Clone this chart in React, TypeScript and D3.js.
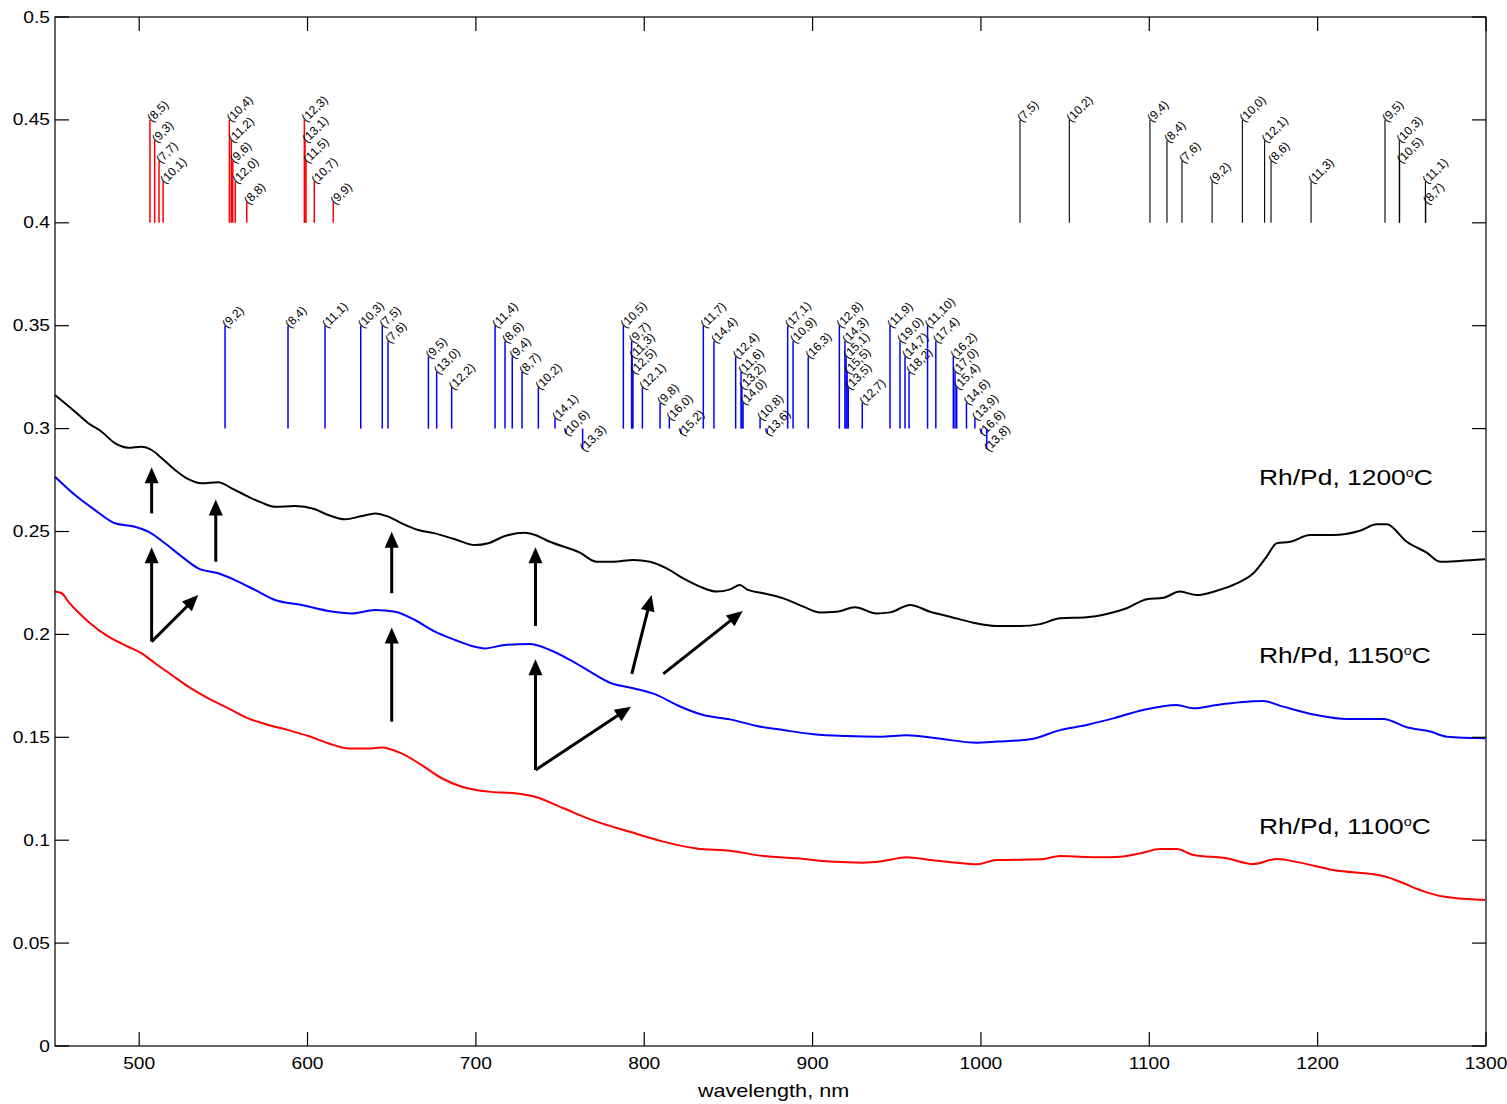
import React from "react";
import * as d3 from "d3";

// ---------- data ----------
const spectrum1200: [number, number][] = [
  [450, 0.3163], [461.9, 0.3082], [469.8, 0.3026], [477.7, 0.2985], [485.6, 0.2929], [493.5, 0.2907],
  [501.5, 0.2912], [507.4, 0.2896], [513.4, 0.2856], [521.3, 0.2799], [529.2, 0.2754], [537.1, 0.2734],
  [547, 0.2739], [555, 0.271], [564.8, 0.2669], [572.8, 0.264], [580.7, 0.262], [592.6, 0.2624],
  [604.4, 0.2608], [612.3, 0.258], [622.3, 0.2559], [632.2, 0.2575], [640.1, 0.2588], [648, 0.2572],
  [655.9, 0.254], [665.8, 0.2507], [675.7, 0.2491], [687.6, 0.2462], [699.5, 0.2434], [707.4, 0.2443],
  [717.3, 0.2478], [729.2, 0.2494], [735.1, 0.2483], [744, 0.245], [761.8, 0.2397], [771.7, 0.2353],
  [781.6, 0.2353], [793.5, 0.2362], [803.4, 0.2353], [813.3, 0.2321], [823.2, 0.2272], [833.1, 0.2232],
  [843, 0.2208], [851, 0.2219], [856.9, 0.224], [860.9, 0.2219], [870.7, 0.22], [882.6, 0.2175],
  [894.5, 0.2135], [904.4, 0.2107], [914.3, 0.211], [925.2, 0.2132], [938.1, 0.2102], [946, 0.2107],
  [957.9, 0.2143], [969.8, 0.211], [981.6, 0.2086], [995.5, 0.2057], [1009.4, 0.2041], [1023.2, 0.2041],
  [1035.1, 0.205], [1047, 0.2078], [1062.8, 0.2083], [1074.7, 0.2099], [1086.6, 0.2127], [1098.5, 0.2171],
  [1108.4, 0.2178], [1118.2, 0.2208], [1128.2, 0.2191], [1140, 0.2212], [1151.9, 0.2248], [1161.8, 0.2297],
  [1169.7, 0.2378], [1175.7, 0.2443], [1183.6, 0.245], [1195.5, 0.2483], [1209.3, 0.2483], [1225.1, 0.2504],
  [1235.1, 0.2535], [1241, 0.2535], [1252.9, 0.245], [1264.8, 0.2397], [1272.7, 0.2353], [1284.6, 0.2357],
  [1299.4, 0.2365],
];

const spectrum1150: [number, number][] = [
  [450, 0.2766], [461.9, 0.2677], [473.8, 0.2604], [485.6, 0.254], [497.5, 0.2523], [505.4, 0.2499],
  [515.3, 0.2443], [525.3, 0.2378], [535.1, 0.2321], [547, 0.2297], [556.9, 0.2264], [568.8, 0.2216],
  [580.7, 0.2167], [596.6, 0.2143], [612.3, 0.2114], [626.2, 0.2102], [640.1, 0.2119], [652, 0.211],
  [663.8, 0.207], [675.7, 0.2013], [687.6, 0.1973], [697.5, 0.1944], [705.4, 0.1932], [717.3, 0.1949],
  [732.1, 0.1953], [744, 0.1924], [755.9, 0.1876], [767.8, 0.1819], [779.7, 0.1765], [793.5, 0.1738],
  [807.4, 0.1706], [819.3, 0.1657], [835.1, 0.1608], [851, 0.1587], [866.8, 0.1555], [882.6, 0.1535],
  [900.4, 0.1515], [920.3, 0.1506], [940.1, 0.1503], [955.9, 0.151], [973.7, 0.1495], [997.5, 0.1474],
  [1009.4, 0.1479], [1029.2, 0.149], [1047, 0.1535], [1062.8, 0.156], [1078.6, 0.1592], [1096.4, 0.1633],
  [1116.3, 0.1657], [1126.1, 0.1641], [1140, 0.1657], [1153.9, 0.167], [1167.7, 0.1676], [1179.6, 0.1649],
  [1199.5, 0.1608], [1217.3, 0.1589], [1239, 0.1589], [1252.9, 0.1549], [1266.8, 0.1528], [1276.7, 0.1503],
  [1299.4, 0.1495],
];

const spectrum1100: [number, number][] = [
  [450, 0.2208], [454, 0.22], [457.9, 0.2159], [469.8, 0.2062], [481.7, 0.1989], [493.5, 0.194],
  [501.5, 0.1908], [509.4, 0.186], [519.3, 0.1803], [529.2, 0.1746], [541.1, 0.1689], [553, 0.1641],
  [564.8, 0.1592], [576.7, 0.156], [588.6, 0.1535], [600.5, 0.1506], [612.3, 0.1471], [624.2, 0.1446],
  [636.1, 0.1446], [644.1, 0.1451], [655.9, 0.1422], [667.8, 0.1365], [679.7, 0.1301], [691.6, 0.126],
  [707.4, 0.1236], [723.2, 0.1228], [735.1, 0.1211], [752, 0.1155], [771.7, 0.109], [791.5, 0.1041],
  [811.3, 0.0993], [831.2, 0.096], [851, 0.0949], [870.7, 0.0923], [890.5, 0.0912], [910.4, 0.0896],
  [930.1, 0.0891], [942, 0.0899], [955.9, 0.0917], [969.8, 0.0904], [985.6, 0.0891], [997.5, 0.0883],
  [1009.4, 0.0904], [1035.1, 0.0907], [1047, 0.0923], [1070.7, 0.0917], [1082.6, 0.092], [1094.5, 0.0936],
  [1106.4, 0.0957], [1116.3, 0.0957], [1126.1, 0.0928], [1146, 0.0912], [1161.8, 0.0884], [1175.7, 0.0909],
  [1189.5, 0.0891], [1209.3, 0.0855], [1239, 0.0826], [1248.9, 0.0798], [1260.8, 0.0758], [1272.7, 0.0729],
  [1299.4, 0.0709],
];

// stick lines: [label, wavelength, top value]
const redSticks: [string, number, number][] = [
  ["(8,5)", 506.4, 0.45], ["(9,3)", 509.2, 0.44], ["(7,7)", 511.8, 0.43], ["(10,1)", 514.2, 0.42],
  ["(10,4)", 553.6, 0.45], ["(11,2)", 554.7, 0.44], ["(9,6)", 555.6, 0.43], ["(12,0)", 557.1, 0.42],
  ["(8,8)", 563.9, 0.41], ["(12,3)", 598.1, 0.45], ["(13,1)", 598.5, 0.44], ["(11,5)", 599.1, 0.43],
  ["(10,7)", 604.0, 0.42], ["(9,9)", 615.3, 0.41],
];
const redBase = 0.4;

const blackSticks: [string, number, number][] = [
  ["(7,5)", 1023.2, 0.45], ["(10,2)", 1052.5, 0.45], ["(9,4)", 1100.4, 0.45], ["(8,4)", 1110.5, 0.44],
  ["(7,6)", 1119.4, 0.43], ["(9,2)", 1137.3, 0.42], ["(10,0)", 1155.3, 0.45], ["(12,1)", 1168.5, 0.44],
  ["(8,6)", 1172.3, 0.43], ["(11,3)", 1196.1, 0.42], ["(9,5)", 1240.0, 0.45], ["(10,3)", 1248.5, 0.44],
  ["(10,5)", 1248.7, 0.43], ["(11,1)", 1264.0, 0.42], ["(8,7)", 1264.2, 0.41],
];
const blackBase = 0.4;

const blueSticks: [string, number, number][] = [
  ["(9,2)", 551.0, 0.35], ["(8,4)", 588.4, 0.35], ["(11,1)", 610.4, 0.35], ["(10,3)", 631.6, 0.35],
  ["(7,5)", 644.4, 0.35], ["(7,6)", 647.8, 0.3425], ["(9,5)", 671.8, 0.335], ["(13,0)", 676.7, 0.3275],
  ["(12,2)", 685.6, 0.32], ["(11,4)", 711.4, 0.35], ["(8,6)", 717.3, 0.3425], ["(9,4)", 721.6, 0.335],
  ["(8,7)", 727.4, 0.3275], ["(10,2)", 737.1, 0.32], ["(14,1)", 747.0, 0.305], ["(10,6)", 753.5, 0.2975],
  ["(13,3)", 763.4, 0.29], ["(10,5)", 787.6, 0.35], ["(9,7)", 792.5, 0.3425], ["(11,3)", 792.8, 0.335],
  ["(12,5)", 793.3, 0.3275], ["(12,1)", 798.9, 0.32], ["(9,8)", 809.4, 0.3125], ["(16,0)", 814.9, 0.305],
  ["(15,2)", 821.8, 0.2975], ["(11,7)", 835.1, 0.35], ["(14,4)", 841.4, 0.3425], ["(12,4)", 854.3, 0.335],
  ["(11,6)", 857.5, 0.3275], ["(13,2)", 858.0, 0.32], ["(14,0)", 858.7, 0.3125], ["(10,8)", 868.8, 0.305],
  ["(13,6)", 873.0, 0.2975], ["(17,1)", 885.2, 0.35], ["(10,9)", 888.4, 0.3425], ["(16,3)", 897.4, 0.335],
  ["(12,8)", 915.9, 0.35], ["(14,3)", 919.2, 0.3425], ["(15,1)", 919.9, 0.335], ["(15,5)", 920.5, 0.3275],
  ["(13,5)", 921.2, 0.32], ["(12,7)", 929.5, 0.3125], ["(11,9)", 946.0, 0.35], ["(19,0)", 951.9, 0.3425],
  ["(14,7)", 954.9, 0.335], ["(18,2)", 957.3, 0.3275], ["(11,10)", 968.3, 0.35], ["(17,4)", 973.2, 0.3425],
  ["(16,2)", 983.6, 0.335], ["(17,0)", 984.6, 0.3275], ["(15,4)", 985.6, 0.32], ["(14,6)", 991.4, 0.3125],
  ["(13,9)", 996.4, 0.305], ["(16,6)", 1000.3, 0.2975], ["(13,8)", 1003.4, 0.29],
];
const blueBase = 0.3;

// arrows: [x1, y1, x2 (tip), y2 (tip)] in data units
const arrows: [number, number, number, number][] = [
  [507.4, 0.2588, 507.4, 0.2812],
  [545.5, 0.2353, 545.5, 0.2656],
  [507.4, 0.1965, 507.4, 0.2423],
  [507.4, 0.1965, 535.1, 0.2191],
  [650, 0.22, 650, 0.2499],
  [650, 0.1576, 650, 0.2034],
  [735.4, 0.2041, 735.4, 0.2423],
  [735.4, 0.1341, 735.4, 0.1879],
  [735.4, 0.1341, 792.1, 0.1649],
  [792.6, 0.1808, 804.4, 0.2191],
  [811.3, 0.1808, 858.5, 0.2114],
];

// series labels: [temperature text, wavelength, value]
const seriesLabels: [string, number, number][] = [
  ["1200", 1165.2, 0.2726],
  ["1150", 1165.2, 0.1862],
  ["1100", 1165.2, 0.1029],
];

const xTicks = [500, 600, 700, 800, 900, 1000, 1100, 1200, 1300];
const yTicks = [0, 0.05, 0.1, 0.15, 0.2, 0.25, 0.3, 0.35, 0.4, 0.45, 0.5];
const xLabel = "wavelength, nm";

// ---------- chart ----------
const W = 1507;
const H = 1104;
const L = 55, R = 1486, T = 17, B = 1046;
const FONT = "'Liberation Sans', Arial, Helvetica, sans-serif";
const SX = 1.2; // horizontal text stretch

export default function App() {
  const x = d3.scaleLinear().domain([450, 1300]).range([L, R]);
  const y = d3.scaleLinear().domain([0, 0.5]).range([B, T]);
  const line = d3.line<[number, number]>().x((d) => x(d[0])).y((d) => y(d[1])).curve(d3.curveMonotoneX);
  const fmt = d3.format("~g");
  const tick = 14;

  const sticks = (data: [string, number, number][], base: number, color: string, width: number, key: string) =>
    data.map(([lab, wl, top], i) => {
      const px = x(wl);
      const py = y(top);
      return (
        <g key={key + i}>
          <line x1={px} x2={px} y1={y(base)} y2={py} stroke={color} strokeWidth={width} />
          <text
            transform={`translate(${px - 1},${py}) rotate(-45)`}
            dy="0.35em"
            fontSize={12}
            fontFamily={FONT}
            fill="#000"
          >
            {lab}
          </text>
        </g>
      );
    });

  return (
    <svg width={W} height={H} style={{ position: "absolute", left: 0, top: 0, background: "#fff" }}>
      <rect x={0} y={0} width={W} height={H} fill="#fff" />

      {/* sticks */}
      {sticks(redSticks, redBase, "#ff0000", 1.5, "r")}
      {sticks(blackSticks, blackBase, "#000", 1.1, "k")}
      {sticks(blueSticks, blueBase, "#0000ff", 1.5, "b")}

      {/* spectra */}
      <path d={line(spectrum1100) || ""} fill="none" stroke="#ff0000" strokeWidth={2} />
      <path d={line(spectrum1150) || ""} fill="none" stroke="#0000ff" strokeWidth={2} />
      <path d={line(spectrum1200) || ""} fill="none" stroke="#000" strokeWidth={2} />

      {/* arrows */}
      {arrows.map(([a, b, c, d], i) => {
        const x1 = x(a), y1 = y(b), x2 = x(c), y2 = y(d);
        const dx = x2 - x1, dy = y2 - y1;
        const len = Math.hypot(dx, dy);
        const ux = dx / len, uy = dy / len;
        const hl = 16, hw = 7;
        const bx = x2 - ux * hl, by = y2 - uy * hl;
        const pts = `${x2},${y2} ${bx - uy * hw},${by + ux * hw} ${bx + uy * hw},${by - ux * hw}`;
        return (
          <g key={"a" + i}>
            <line x1={x1} y1={y1} x2={bx + ux * 2} y2={by + uy * 2} stroke="#000" strokeWidth={3} />
            <polygon points={pts} fill="#000" />
          </g>
        );
      })}

      {/* series labels */}
      {seriesLabels.map(([t, wl, v], i) => (
        <g key={"s" + i} transform={`translate(${x(wl)},${y(v)}) scale(${SX},1)`}>
          <text x={0} y={0} fontSize={22} fontFamily={FONT} fill="#000">
            {"Rh/Pd, " + t}
            <tspan fontSize={12} dy={-8}>o</tspan>
            <tspan dy={8}>C</tspan>
          </text>
        </g>
      ))}

      {/* frame */}
      <rect x={L} y={T} width={R - L} height={B - T} fill="none" stroke="#000" strokeWidth={1.2} />

      {/* ticks */}
      {xTicks.map((t) => (
        <g key={"xt" + t}>
          <line x1={x(t)} x2={x(t)} y1={B} y2={B - tick} stroke="#000" strokeWidth={1.2} />
          <line x1={x(t)} x2={x(t)} y1={T} y2={T + tick} stroke="#000" strokeWidth={1.2} />
          <g transform={`translate(${x(t)},${B + 23}) scale(${SX},1)`}>
            <text textAnchor="middle" fontSize={16} fontFamily={FONT} fill="#000">
              {t}
            </text>
          </g>
        </g>
      ))}
      {yTicks.map((t) => (
        <g key={"yt" + t}>
          <line x1={L} x2={L + tick} y1={y(t)} y2={y(t)} stroke="#000" strokeWidth={1.2} />
          <line x1={R} x2={R - tick} y1={y(t)} y2={y(t)} stroke="#000" strokeWidth={1.2} />
          <g transform={`translate(${L - 5},${y(t) + 5.5}) scale(${SX},1)`}>
            <text textAnchor="end" fontSize={16} fontFamily={FONT} fill="#000">
              {fmt(t)}
            </text>
          </g>
        </g>
      ))}

      {/* x label */}
      <g transform={`translate(${(L + R) / 2 + 3},${B + 51}) scale(${SX},1)`}>
        <text textAnchor="middle" fontSize={18} fontFamily={FONT} fill="#000">
          {xLabel}
        </text>
      </g>
    </svg>
  );
}
